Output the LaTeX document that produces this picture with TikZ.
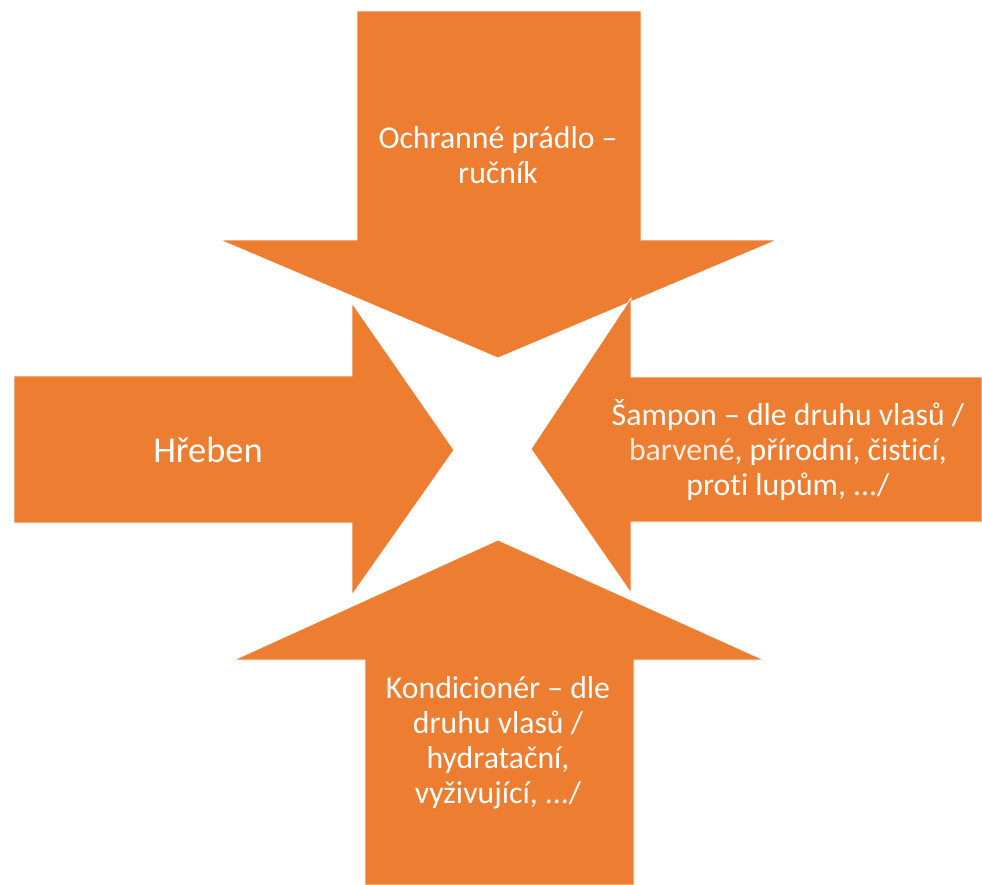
\documentclass[tikz,border=0pt]{standalone}
\usepackage{fontspec}
\setmainfont{Carlito}[Ligatures={TeX,NoCommon}]
\definecolor{accorange}{HTML}{ED7D31}
\definecolor{lightpeach}{HTML}{FAEBE1}

\begin{document}
\begin{tikzpicture}[x=0.75pt,y=-0.75pt,
	arrowshape/.style={fill=accorange,draw=white,line width=0.6pt},
	arrowtext/.style={text=white,align=center,font=\fontsize{23.8}{26.3}\selectfont}]
	\useasboundingbox (0,0) rectangle (982,885);
	
	%TOP ARROW
	\draw[arrowshape] (357,11)--(641,11)--(641,240)--(777,240)--(498,358)--(220,240)--(357,240)--cycle;
	%BOTTOM ARROW
	\draw[arrowshape] (365,885)--(634,885)--(634,660)--(764,660)--(498,540)--(234,660)--(365,660)--cycle;
	%LEFT ARROW
	\draw[arrowshape] (14,376)--(352,376)--(352,303)--(454,450)--(352,595)--(352,523)--(14,523)--cycle;
	%RIGHT ARROW
	\draw[arrowshape] (982,377)--(631,377)--(631,298)--(531,449)--(631,593)--(631,522)--(982,522)--cycle;
	
	%LABELS
	\node[arrowtext] (towel) at (498,155) {Ochranné prádlo --\\ručník};
	\node[arrowtext,font=\fontsize{27.3}{30}\selectfont] (comb) at (208,450) {Hřeben};
	\node[arrowtext] (shampoo) at (788,450) {Šampon -- dle druhu vlasů /\\\textcolor{lightpeach}{barvené}, přírodní, čisticí,\\proti lupům, .../};
	\node[arrowtext] (conditioner) at (498,743) {Kondicionér -- dle\\druhu vlasů /\\hydratační,\\vyživující, .../};
\end{tikzpicture}
\end{document}
